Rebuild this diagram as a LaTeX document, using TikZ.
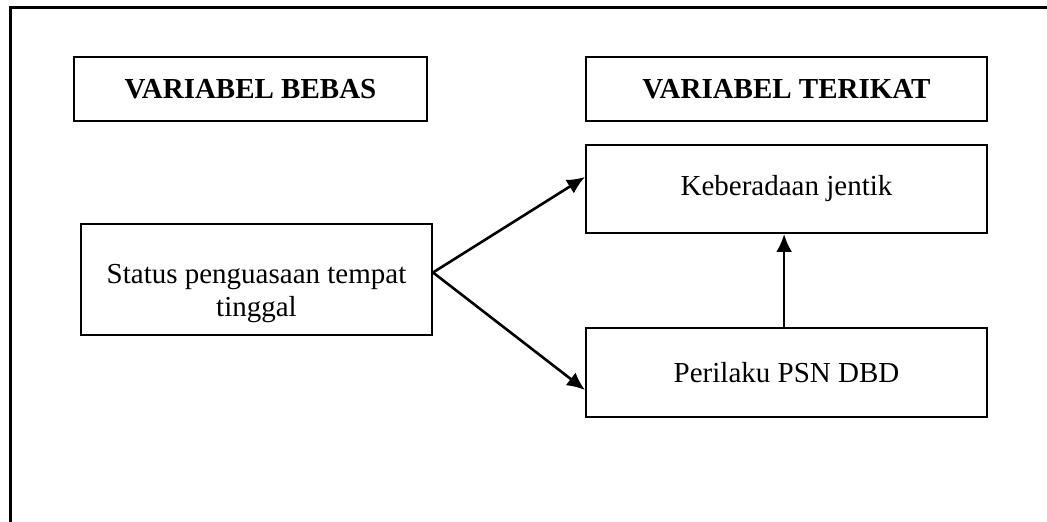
\documentclass[tikz,border=0pt]{standalone}
\usepackage{fontspec}
\setmainfont{Liberation Serif}
\usepackage{tikz}
\usetikzlibrary{arrows.meta}

\begin{document}
\begin{tikzpicture}[x=0.5pt,y=-0.5pt,
    kotak/.style={draw,line width=1pt,inner sep=0pt,align=center,font=\fontsize{14.5}{16.5}\selectfont},
    judul/.style={kotak,minimum height=32pt,font=\fontsize{14.5}{16.5}\selectfont\bfseries},
    panah/.style={-{Latex[length=9pt,width=8pt]},line width=1.3pt}]
      \path[use as bounding box,clip] (0,0) rectangle (1047,522);
      \draw[line width=1.5pt] (10,8) rectangle (1070,545);
      \node[judul,minimum width=176.5pt] (bebas) at (250.5,89) {VARIABEL BEBAS};
      \node[judul,minimum width=200.5pt] (terikat) at (786.5,89) {VARIABEL TERIKAT};
      \node[kotak,minimum width=200.5pt,minimum height=44pt] (jentik) at (786.5,189) {Keberadaan jentik};
      \node[kotak,minimum width=175.5pt,minimum height=55.5pt] (status) at (256.5,279.5) {\rule{0pt}{24pt}Status penguasaan tempat\\tinggal};
      \node[kotak,minimum width=200.5pt,minimum height=44.5pt] (psn) at (786.5,372.5) {Perilaku PSN DBD};
      \coordinate (cabang) at ([yshift=3.5pt]status.east);
      \draw[panah] (cabang) -- ([yshift=6pt]jentik.west);
      \draw[panah] (cabang) -- ([yshift=-8.75pt]psn.west);
      \draw[panah] ([xshift=-1.2pt]psn.north) -- ([xshift=-1.2pt]jentik.south);
    \end{tikzpicture}
\end{document}
